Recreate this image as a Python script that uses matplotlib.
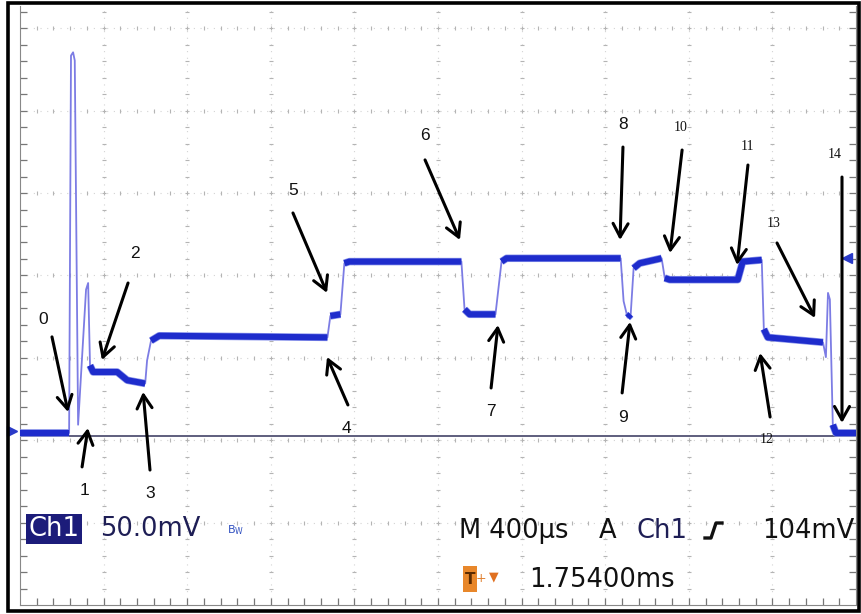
import numpy as np
import matplotlib
matplotlib.use("Agg")
import matplotlib.pyplot as plt
from matplotlib.patches import Rectangle
from matplotlib.lines import Line2D
import matplotlib.patheffects as pe

# Scope settings
DIV_US = 400      # M 400us
DIV_MV = 50       # Ch1 50.0mV
V_BOTTOM = -104.4 # screen bottom relative to ground (mV)
V_TOP = 259.1     # screen top (cropped) relative to ground (mV)

# Trace: time from left edge (us), voltage above ground (mV)
time_us = [0, 235, 244, 254, 262, 278, 316, 326, 335, 350, 465, 513, 599, 608, 627, 666,
           1471, 1485, 1533, 1552, 1576, 2112, 2127, 2151, 2275, 2304, 2328, 2874, 2888, 2907,
           2922, 2936, 2965, 3070, 3085, 3109, 3434, 3458, 3549, 3559, 3578, 3842, 3856, 3866,
           3875, 3889, 3904, 4000]
volt_mv = [0, 0, 229, 231, 226, 5, 87, 91, 41, 37, 37, 32, 30, 44, 56, 59,
           58, 71, 72, 103, 104, 104, 75, 72, 72, 104, 106, 106, 80, 70,
           72, 100, 103, 106, 94, 93, 93, 104, 105, 63, 58, 55, 46, 85,
           81, 5, 0, 0]

# Numbered arrows: label position, arrow tail, arrow head (us, mV)
labels = ['0', '1', '2', '3', '4', '5', '6', '7', '8', '9', '10', '11', '12', '13', '14']
label_t = [110, 311, 550, 622, 1560, 1306, 1938, 2254, 2885, 2885, 3163, 3483, 3574, 3608, 3900]
label_v = [68.6, -35.2, 109.2, -37.0, 3.0, 147.4, 180.8, 13.3, 186.9, 9.1, 185.1, 174.1, -4.2, 127.4, 168.7]
tail_t = [153, 297, 517, 622, 1569, 1306, 1938, 2254, 2885, 2881, 3168, 3483, 3589, 3622, 3933]
tail_v = [58.3, -20.6, 91.0, -22.5, 17.0, 133.5, 165.7, 27.3, 173.5, 24.3, 171.7, 162.6, 9.7, 115.3, 155.3]
head_t = [230, 325, 392, 589, 1469, 1469, 2105, 2287, 2871, 2919, 3110, 3431, 3541, 3804, 3933]
head_v = [12.7, 3.0, 44.3, 24.9, 46.1, 85.0, 117.1, 65.5, 117.1, 67.4, 109.2, 101.9, 48.5, 69.8, 6.1]

W, H = 862, 614
fig = plt.figure(figsize=(W / 100, H / 100), dpi=100)
fig.patch.set_facecolor('white')
ax = fig.add_axes([20 / W, 9 / H, 836 / W, 599 / H])
ax.set_xlim(0, 10 * DIV_US)
ax.set_ylim(V_BOTTOM, V_TOP)

# graticule
grid_x = DIV_US * np.arange(1, 10)
grid_y = V_BOTTOM + DIV_MV * np.arange(1, 8)
for gx in grid_x:
    ax.axvline(gx, color='#d4d4d4', lw=0.8, ls=(0, (1, 5)), zorder=1)
    ys = V_BOTTOM + DIV_MV / 5 * np.arange(1, 37)
    ax.plot(np.full_like(ys, gx), ys, ls='none', marker='_', ms=3, mew=0.8, color='#b4b4b4', zorder=1)
for gy in grid_y:
    ax.axhline(gy, color='#d4d4d4', lw=0.8, ls=(0, (1, 5)), zorder=1)
    xs = DIV_US / 5 * np.arange(1, 50)
    ax.plot(xs, np.full_like(xs, gy), ls='none', marker='|', ms=3, mew=0.8, color='#b4b4b4', zorder=1)

ax.set_xticks(grid_x)
ax.set_xticks(DIV_US / 5 * np.arange(1, 50), minor=True)
ax.set_yticks(grid_y)
ax.set_yticks(V_BOTTOM + DIV_MV / 5 * np.arange(1, 37), minor=True)
ax.tick_params(which='both', direction='in', length=5, width=0.9, color='#777777',
               left=True, right=True, bottom=True, top=False,
               labelleft=False, labelbottom=False)
for side in ['left', 'right', 'bottom']:
    ax.spines[side].set_color('#888888')
ax.spines['top'].set_visible(False)

# ground reference line
ax.axhline(-1.8, color='#33335a', lw=1.1, zorder=2)

# trace: fast edges thin and pale, plateaus thick
t = np.array(time_us, float)
v = np.array(volt_mv, float)
dt = np.diff(t)
slope = np.abs(np.diff(v)) / dt
flat = (slope < 0.5) & (dt >= 12)
ax.plot(t, v, color='#7c7ce4', lw=1.3, zorder=3)
tt, vv = [], []
for i, ok in enumerate(flat):
    if ok:
        if not tt or tt[-1] != t[i]:
            tt.append(t[i]); vv.append(v[i])
        tt.append(t[i + 1]); vv.append(v[i + 1])
    else:
        tt.append(np.nan); vv.append(np.nan)
ax.plot(tt, vv, color='#1e2ccc', lw=4.4, solid_capstyle='butt', zorder=4,
        path_effects=[pe.Stroke(linewidth=5.4, foreground='#8a94ec'), pe.Normal()])

# ground and trigger level markers
ax.plot([-40], [1], marker='>', ms=7, color='#2a3ac8', clip_on=False, zorder=6)
ax.plot([3955], [106], marker='<', ms=7, color='#2a3ac8', zorder=6)

# numbered arrows
for i, lab in enumerate(labels):
    ax.annotate('', xy=(head_t[i], head_v[i]), xytext=(tail_t[i], tail_v[i]),
                arrowprops=dict(arrowstyle='->,head_length=0.8,head_width=0.45', lw=2.2,
                                color='black', mutation_scale=12, shrinkA=0, shrinkB=0),
                zorder=7)
    if len(lab) == 1:
        ax.text(label_t[i], label_v[i], lab, fontsize=12.5, family='Liberation Sans',
                ha='center', va='center', color='#111111', zorder=8)
    else:
        ax.text(label_t[i], label_v[i], lab, fontsize=10, family='Liberation Serif',
                ha='center', va='center', color='#111111', zorder=8)


def fx(px):
    return px / W


def fy(py):
    return 1 - py / H


# readout text
fig.text(fx(54), fy(529), 'Ch1', color='white', fontsize=18.5, ha='center', va='center',
         bbox=dict(boxstyle='square,pad=0.08', fc='#1c1c7a', ec='none'))
fig.text(fx(100), fy(529), '50.0mV', color='#1e1e55', fontsize=18.5, ha='left', va='center')
fig.text(fx(227), fy(530), r'$\mathregular{B_W}$', color='#3050c0', fontsize=8, ha='left', va='center')
fig.text(fx(459), fy(531), 'M 400µs', color='#111111', fontsize=18.5, ha='left', va='center')
fig.text(fx(599), fy(531), 'A', color='#111111', fontsize=18.5, ha='left', va='center')
fig.text(fx(637), fy(531), 'Ch1', color='#1e1e55', fontsize=18.5, ha='left', va='center')
fig.add_artist(Line2D([fx(705), fx(711), fx(716), fx(722)], [fy(538), fy(538), fy(523), fy(523)],
                      color='#111111', lw=2.4, transform=fig.transFigure))
fig.text(fx(762), fy(531), '104mV', color='#111111', fontsize=18.5, ha='left', va='center')

fig.add_artist(Rectangle((fx(463), fy(592)), 14 / W, 26 / H, fc='#e8872a', ec='none',
                         transform=fig.transFigure))
fig.text(fx(470), fy(579), 'T', color='#5a2a00', fontsize=11, fontweight='bold',
         ha='center', va='center')
fig.text(fx(481), fy(578), '+', color='#e08030', fontsize=9, ha='center', va='center')
fig.text(fx(494), fy(577), '▼', color='#e07020', fontsize=9, ha='center', va='center')
fig.text(fx(529), fy(580), '1.75400ms', color='#111111', fontsize=18.5, ha='left', va='center')

# outer frame
fig.add_artist(Rectangle((fx(8), fy(611)), 851 / W, 608 / H, fill=False, lw=2.6,
                         ec='black', transform=fig.transFigure))

fig.savefig('out.png', dpi=100)
